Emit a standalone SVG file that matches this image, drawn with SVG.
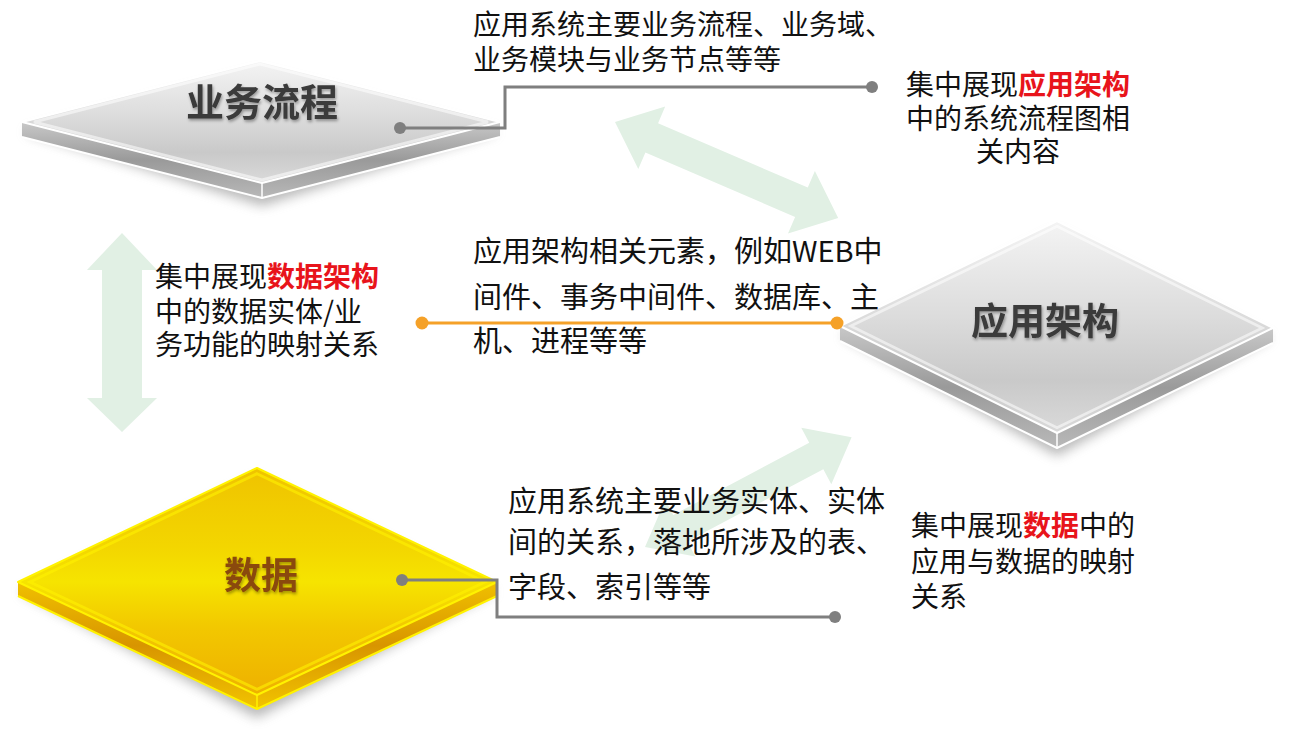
<svg xmlns="http://www.w3.org/2000/svg" width="1293" height="731" viewBox="0 0 1293 731">
<defs>
<style>
.t{font-family:"Noto Sans CJK SC","Noto Sans",sans-serif;font-size:28px;fill:#111}
.t29{font-size:29px}
.red{fill:#e8141b;font-weight:bold}
.lab{font-family:"Noto Sans CJK SC","Noto Sans",sans-serif;font-weight:bold;text-anchor:middle}
.arr{fill:#e1f0e4}
.gl{fill:none;stroke:#7f7f7f;stroke-width:3}
.gd{fill:#7f7f7f}
.ol{fill:none;stroke:#f5a128;stroke-width:3}
.od{fill:#f5a128}
.edge{fill:none;stroke:#ffffff;stroke-width:2;stroke-linejoin:round}
.yedge{fill:none;stroke:#fff200;stroke-width:2;stroke-linejoin:round}
</style>
<linearGradient id="gFace" x1="0" y1="0" x2="0" y2="1">
<stop offset="0" stop-color="#f4f4f4"/>
<stop offset="0.45" stop-color="#dcdcdc"/>
<stop offset="0.75" stop-color="#c9c9c9"/>
<stop offset="1" stop-color="#dadada"/>
</linearGradient>
<linearGradient id="gSide" x1="0" y1="0" x2="0" y2="1">
<stop offset="0" stop-color="#c8c8c8"/>
<stop offset="0.5" stop-color="#9a9a9a"/>
<stop offset="1" stop-color="#b8b8b8"/>
</linearGradient>
<linearGradient id="yFace" x1="0" y1="0" x2="0" y2="1">
<stop offset="0" stop-color="#efc300"/>
<stop offset="0.35" stop-color="#f3d600"/>
<stop offset="0.5" stop-color="#f6e400"/>
<stop offset="0.7" stop-color="#f2c800"/>
<stop offset="1" stop-color="#eeb000"/>
</linearGradient>
<linearGradient id="ySide" x1="0" y1="0" x2="0" y2="1">
<stop offset="0" stop-color="#f0c000"/>
<stop offset="0.5" stop-color="#d89500"/>
<stop offset="1" stop-color="#f2c400"/>
</linearGradient>
<filter id="shadow" x="-10%" y="-20%" width="120%" height="150%">
<feGaussianBlur stdDeviation="6"/>
</filter>
<filter id="ts" x="-10%" y="-20%" width="120%" height="150%">
<feDropShadow dx="1" dy="2" stdDeviation="1.5" flood-color="#000" flood-opacity="0.35"/>
</filter>
</defs>
<rect width="1293" height="731" fill="#ffffff"/>

<g id="arrows-bg">
<polygon class="arr" transform="translate(615,122) rotate(23.3)" points="0,0 40,-34 40,-16 203,-16 203,-34 243,0 203,34 203,16 40,16 40,34"/>
<polygon class="arr" transform="translate(645,547) rotate(-28)" points="0,0 40,-32 40,-15 194,-15 194,-32 234,0 194,32 194,15 40,15 40,32"/>
<polygon class="arr" points="122,233 157,270 142,270 142,398 157,398 122,432 87,398 102,398 102,270 87,270"/>
</g>

<g id="node-yewuliucheng">
<polygon points="24,132 260,72 498,132 262,206" fill="#808080" opacity="0.55" filter="url(#shadow)"/>
<polygon points="22,122 262,183 262,198 22,137" fill="url(#gSide)"/>
<polygon points="262,183 500,122 500,137 262,198" fill="url(#gSide)"/>
<polyline class="edge" points="22,137 262,198 500,137"/>
<line x1="262" y1="183" x2="262" y2="198" stroke="#fff" stroke-width="1.5"/>
<polygon points="260,61 500,122 262,183 22,122" fill="url(#gFace)"/>
<polygon class="edge" points="260,61 500,122 262,183 22,122"/>
<polygon points="260,61 500,122 262,183 22,122" fill="none" stroke="#ffffff" stroke-opacity="0.55" stroke-width="3" transform="translate(261,122) scale(0.95) translate(-261,-122)"/>
<text class="lab" x="262" y="116" font-size="38" fill="#3a3a3a" filter="url(#ts)">业务流程</text>
</g>

<g id="node-yingyongjiagou">
<polygon points="842,336 1057,232 1271,338 1057,456" fill="#808080" opacity="0.55" filter="url(#shadow)"/>
<polygon points="840,326 1057,433 1057,448 840,341" fill="url(#gSide)"/>
<polygon points="1057,433 1273,328 1273,343 1057,448" fill="url(#gSide)"/>
<polyline class="edge" points="840,341 1057,448 1273,343"/>
<line x1="1057" y1="433" x2="1057" y2="448" stroke="#fff" stroke-width="1.5"/>
<polygon points="1057,221 1273,328 1057,433 840,326" fill="url(#gFace)"/>
<polygon class="edge" points="1057,221 1273,328 1057,433 840,326"/>
<polygon points="1057,221 1273,328 1057,433 840,326" fill="none" stroke="#ffffff" stroke-opacity="0.55" stroke-width="3" transform="translate(1057,327) scale(0.95) translate(-1057,-327)"/>
<text class="lab" x="1045" y="335" font-size="37" fill="#3a3a3a" filter="url(#ts)">应用架构</text>
</g>

<g id="node-shuju">
<polygon points="20,592 257,478 495,592 257,718" fill="#808080" opacity="0.55" filter="url(#shadow)"/>
<polygon points="18,582 257,695 257,709 18,596" fill="url(#ySide)"/>
<polygon points="257,695 497,582 497,596 257,709" fill="url(#ySide)"/>
<polyline class="yedge" points="18,596 257,709 497,596"/>
<line x1="257" y1="695" x2="257" y2="709" stroke="#fff200" stroke-width="1.5"/>
<polygon points="257,468 497,582 257,695 18,582" fill="url(#yFace)"/>
<polygon class="yedge" points="257,468 497,582 257,695 18,582"/>
<polygon points="257,468 497,582 257,695 18,582" fill="none" stroke="#fff200" stroke-opacity="0.6" stroke-width="3" transform="translate(257,582) scale(0.95) translate(-257,-582)"/>
<text class="lab" x="261" y="589" font-size="37" fill="#8a4a0a" filter="url(#ts)">数据</text>
</g>

<g id="connectors">
<polyline class="gl" points="400,128 505,128 505,87 872,87"/>
<circle class="gd" cx="400" cy="128" r="6"/>
<circle class="gd" cx="872" cy="87" r="6"/>
<line class="ol" x1="422" y1="323" x2="837" y2="323"/>
<circle class="od" cx="422" cy="323" r="6.5"/>
<circle class="od" cx="837" cy="323" r="6.5"/>
<polyline class="gl" points="402,580 497,580 497,617 835,617"/>
<circle class="gd" cx="402" cy="580" r="6"/>
<circle class="gd" cx="835" cy="617" r="6"/>
</g>

<g id="text-top">
<text class="t" x="473" y="35">应用系统主要业务流程、业务域、</text>
<text class="t" x="473" y="70">业务模块与业务节点等等</text>
</g>
<g id="text-top-right">
<text class="t" x="1018" y="95" text-anchor="middle">集中展现<tspan class="red">应用架构</tspan></text>
<text class="t" x="1018" y="129" text-anchor="middle">中的系统流程图相</text>
<text class="t" x="1018" y="162" text-anchor="middle">关内容</text>
</g>
<g id="text-mid-left">
<text class="t" x="155" y="287">集中展现<tspan class="red">数据架构</tspan></text>
<text class="t" x="155" y="322">中的数据实体/业</text>
<text class="t" x="155" y="355">务功能的映射关系</text>
</g>
<g id="text-mid">
<text class="t t29" x="473" y="262">应用架构相关元素，例如WEB中</text>
<text class="t t29" x="473" y="308">间件、事务中间件、数据库、主</text>
<text class="t t29" x="473" y="352">机、进程等等</text>
</g>
<g id="text-bottom">
<text class="t t29" x="508" y="512">应用系统主要业务实体、实体</text>
<text class="t t29" x="508" y="553">间的关系，落地所涉及的表、</text>
<text class="t t29" x="508" y="598">字段、索引等等</text>
</g>
<g id="text-bottom-right">
<text class="t" x="911" y="536">集中展现<tspan class="red">数据</tspan>中的</text>
<text class="t" x="911" y="572">应用与数据的映射</text>
<text class="t" x="911" y="607">关系</text>
</g>
</svg>
